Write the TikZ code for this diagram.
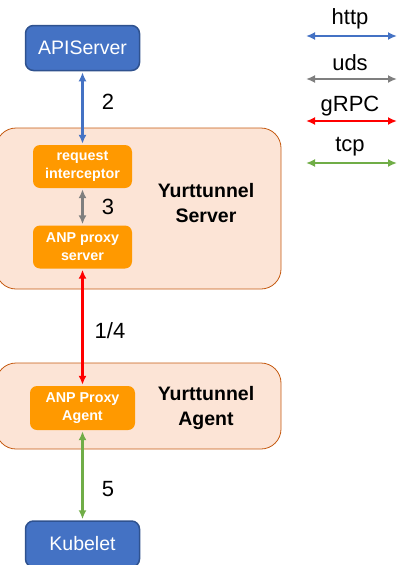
\documentclass[tikz,border=0pt]{standalone}
\usepackage{fontspec}
\setmainfont{Liberation Sans}
\usetikzlibrary{arrows.meta}
\definecolor{httpblue}{HTML}{4472C4}
\definecolor{compedge}{HTML}{2F528F}
\definecolor{udsgray}{HTML}{7F7F7F}
\definecolor{grpcred}{HTML}{FF0000}
\definecolor{tcpgreen}{HTML}{70AD47}
\definecolor{proxyorange}{HTML}{FF9900}
\definecolor{hostfill}{HTML}{FCE4D6}
\definecolor{hostedge}{HTML}{C55A11}
\tikzset{link/.style={{Latex[length=9pt,width=8pt]}-{Latex[length=9pt,width=8pt]}, line width=2.3pt, shorten >=1pt, shorten <=1pt},
	comp/.style={draw=compedge, line width=1.5pt, fill=httpblue, rounded corners=8pt, text=white, minimum width=114pt, minimum height=45pt, font=\fontsize{19.5}{22}\selectfont},
	proxy/.style={fill=proxyorange, rounded corners=7pt, text=white, minimum width=99pt, minimum height=43pt, align=center, font=\bfseries\fontsize{14.3}{18}\selectfont},
	host/.style={draw=hostedge, fill=hostfill, rounded corners=20pt, line width=0.8pt},
	hosttext/.style={align=center, font=\bfseries\fontsize{19.5}{25}\selectfont},
	num/.style={font=\fontsize{22}{24}\selectfont}}

\begin{document}
\begin{tikzpicture}[x=1pt, y=-1pt]
			\useasboundingbox (0,0) rectangle (404,565);
			% hosts
			\node [host, minimum width=285pt, minimum height=161pt] (S) at (138.5, 208.5) {};
			\node [host, minimum width=285pt, minimum height=86pt] (T) at (138.5, 406) {};
			\node [hosttext] (SL) at (206, 203) {Yurttunnel\\Server};
			\node [hosttext] (TL) at (206, 408) {Yurttunnel\\Agent};
		
			% components
			\node [comp] (A) at (82.5, 48) {APIServer};
			\node [proxy] (B) at (82.5, 166.5) {request\\interceptor};
			\node [proxy] (C) at (82.5, 247) {ANP proxy\\server};
			\node [proxy, minimum width=105pt, minimum height=44pt] (D) at (82.5, 408) {ANP Proxy\\Agent};
			\node [comp, minimum height=46pt] (E) at (82.5, 544) {Kubelet};
		
			% arrows
			\draw [link, httpblue] (A) -- (B);
			\draw [link, udsgray] (B) -- (C);
			\draw [link, grpcred] (C) -- (D);
			\draw [link, tcpgreen] (D) -- (E);
		
			\node [num] (N2) at (108, 102) {2};
			\node [num] (N3) at (108, 207) {3};
			\node [num] (N14) at (110, 331) {1/4};
			\node [num] (N5) at (108, 489) {5};
		
			% legend
			\coordinate (H1) at (306, 36);  \coordinate (H2) at (397, 36);
			\coordinate (U1) at (306, 79);  \coordinate (U2) at (397, 79);
			\coordinate (G1) at (306, 121); \coordinate (G2) at (397, 121);
			\coordinate (P1) at (306, 163); \coordinate (P2) at (397, 163);
			\draw [link, httpblue, shorten >=0pt, shorten <=0pt] (H1) -- (H2);
			\draw [link, udsgray, shorten >=0pt, shorten <=0pt] (U1) -- (U2);
			\draw [link, grpcred, shorten >=0pt, shorten <=0pt] (G1) -- (G2);
			\draw [link, tcpgreen, shorten >=0pt, shorten <=0pt] (P1) -- (P2);
			\node [num] (LH) at (350, 19) {http};
			\node [num] (LU) at (350, 63) {uds};
			\node [num] (LG) at (350, 106) {gRPC};
			\node [num] (LP) at (350, 147) {tcp};
		\end{tikzpicture}
\end{document}
